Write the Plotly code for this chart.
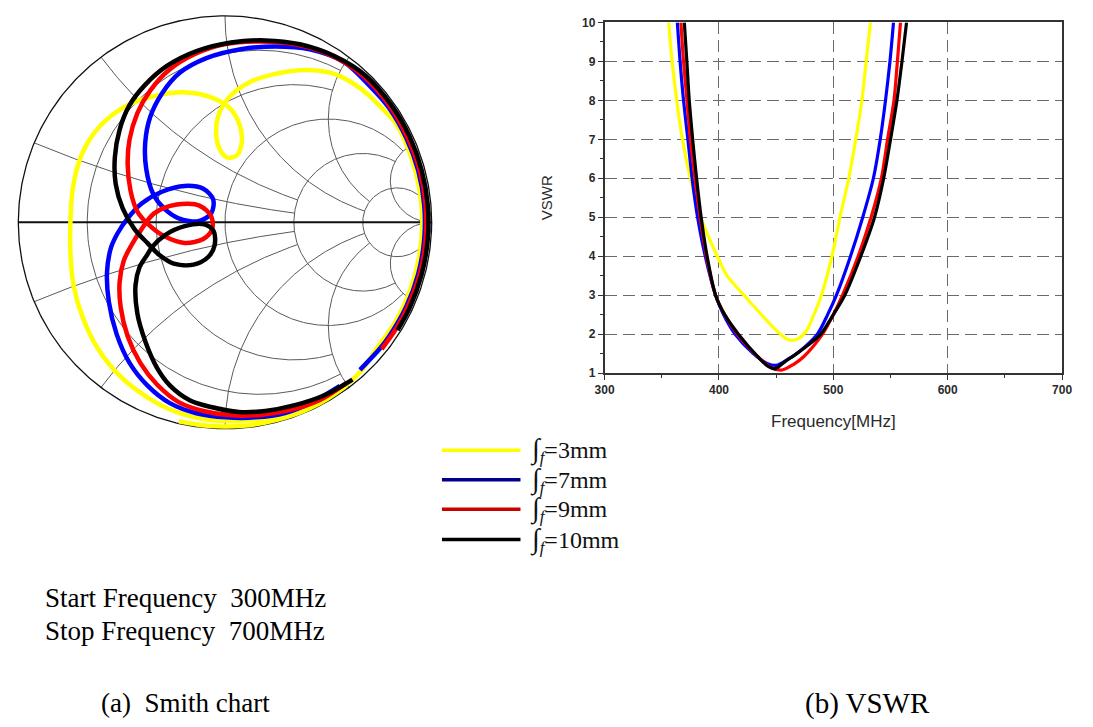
import numpy as np
import plotly.graph_objects as go

# ---------------- Smith chart data: reflection coefficient along the 300 -> 700 MHz sweep
smith_yellow_re = [0.529, 0.386, 0.219, 0.052, -0.090, -0.233, -0.376, -0.510, -0.614, -0.690,
                   -0.733, -0.748, -0.748, -0.738, -0.710, -0.662, -0.581, -0.471, -0.329, -0.186,
                   -0.067, 0.024, 0.071, 0.081, 0.057, 0.010, -0.029, -0.043, -0.024, 0.033,
                   0.124, 0.243, 0.386, 0.529, 0.660, 0.757, 0.827, 0.897, 0.940, 0.955,
                   0.940, 0.897, 0.827, 0.732, 0.665, 0.565, 0.419, 0.256, 0.086, -0.086, -0.223]
smith_yellow_im = [-0.824, -0.895, -0.945, -0.962, -0.955, -0.920, -0.848, -0.743, -0.614, -0.457,
                   -0.305, -0.148, 0.000, 0.152, 0.281, 0.390, 0.490, 0.567, 0.614, 0.629,
                   0.605, 0.552, 0.471, 0.386, 0.324, 0.314, 0.362, 0.448, 0.538, 0.619,
                   0.681, 0.719, 0.738, 0.719, 0.645, 0.555, 0.478, 0.327, 0.166, 0.000,
                   -0.166, -0.327, -0.478, -0.614, -0.713, -0.807, -0.897, -0.956, -0.986, -0.986, -0.964]

smith_blue_re = [0.556, 0.425, 0.290, 0.148, 0.005, -0.138, -0.267, -0.376, -0.462, -0.524,
                 -0.562, -0.571, -0.552, -0.519, -0.471, -0.405, -0.305, -0.195, -0.105, -0.057,
                 -0.067, -0.129, -0.224, -0.295, -0.348, -0.381, -0.386, -0.362, -0.305, -0.219,
                 -0.090, 0.076, 0.243, 0.410, 0.576, 0.704, 0.793, 0.877, 0.935, 0.964,
                 0.964, 0.935, 0.877, 0.793, 0.752, 0.653]
smith_blue_im = [-0.793, -0.870, -0.924, -0.945, -0.945, -0.925, -0.876, -0.790, -0.681, -0.543,
                 -0.386, -0.243, -0.124, -0.052, 0.019, 0.090, 0.148, 0.176, 0.162, 0.110,
                 0.043, 0.005, 0.019, 0.067, 0.138, 0.257, 0.386, 0.510, 0.624, 0.724,
                 0.795, 0.838, 0.852, 0.838, 0.776, 0.657, 0.555, 0.409, 0.251, 0.084,
                 -0.084, -0.251, -0.409, -0.555, -0.609, -0.715]

smith_red_re = [0.587, 0.457, 0.314, 0.171, 0.029, -0.105, -0.224, -0.329, -0.410, -0.471,
                -0.505, -0.510, -0.490, -0.452, -0.410, -0.343, -0.233, -0.124, -0.067, -0.062,
                -0.105, -0.195, -0.295, -0.367, -0.424, -0.457, -0.471, -0.462, -0.424, -0.362,
                -0.271, -0.148, -0.005, 0.162, 0.338, 0.510, 0.662, 0.799, 0.883, 0.942,
                0.971, 0.971, 0.942, 0.883, 0.827, 0.758]
smith_red_im = [-0.779, -0.862, -0.910, -0.933, -0.935, -0.914, -0.871, -0.786, -0.681, -0.552,
                -0.410, -0.290, -0.186, -0.110, -0.043, 0.043, 0.086, 0.081, 0.029, -0.033,
                -0.081, -0.100, -0.067, -0.014, 0.052, 0.152, 0.281, 0.400, 0.529, 0.638,
                0.738, 0.814, 0.862, 0.876, 0.862, 0.810, 0.714, 0.560, 0.412, 0.252,
                0.085, -0.085, -0.252, -0.412, -0.517, -0.614]

smith_black_re = [0.617, 0.481, 0.338, 0.195, 0.067, -0.067, -0.171, -0.267, -0.329, -0.386,
                  -0.424, -0.433, -0.414, -0.376, -0.352, -0.290, -0.195, -0.100, -0.055, -0.050,
                  -0.080, -0.152, -0.248, -0.319, -0.376, -0.438, -0.495, -0.529, -0.533, -0.510,
                  -0.462, -0.390, -0.281, -0.138, 0.029, 0.195, 0.362, 0.529, 0.681, 0.807,
                  0.893, 0.951, 0.981, 0.981, 0.951, 0.893, 0.835]
smith_black_im = [-0.762, -0.838, -0.886, -0.914, -0.919, -0.895, -0.862, -0.790, -0.705, -0.576,
                  -0.443, -0.305, -0.219, -0.157, -0.119, -0.062, -0.019, -0.010, -0.043, -0.110,
                  -0.167, -0.205, -0.200, -0.157, -0.100, -0.033, 0.067, 0.186, 0.314, 0.448,
                  0.567, 0.662, 0.757, 0.829, 0.871, 0.881, 0.862, 0.805, 0.710, 0.565,
                  0.416, 0.255, 0.086, -0.086, -0.255, -0.416, -0.522]

# ---------------- VSWR data
vswr_yellow_f = [356, 359, 363, 368, 375, 384, 398.5, 407, 418.7, 434, 449, 458, 463, 469,
                 476.8, 483, 489.6, 498.8, 505.8, 513.5, 519.6, 525, 528.7, 532.4]
vswr_yellow_v = [10, 9, 8, 7, 6, 5, 4, 3.5, 3.1, 2.6, 2.13, 1.9, 1.84, 1.88,
                 2.1, 2.5, 3, 4, 5, 6, 7, 8, 9, 10]
vswr_blue_f = [363.6, 366, 369, 372.8, 376.5, 381.3, 388, 397, 404, 414, 430, 442, 450, 460,
               470, 486, 495, 502.7, 515, 525.7, 535, 541, 545.6, 549.5, 552.6]
vswr_blue_v = [10, 9, 8, 7, 6, 5, 4, 3, 2.5, 2, 1.5, 1.25, 1.2, 1.35,
               1.55, 2, 2.5, 3, 4, 5, 6, 7, 8, 9, 10]
vswr_red_f = [366.7, 369, 372, 375, 379, 383.5, 389, 397, 405, 416, 433, 445, 455, 465,
              474, 490.5, 500, 508, 521.7, 533, 542, 547.4, 553, 556, 558.7]
vswr_red_v = [10, 9, 8, 7, 6, 5, 4, 3, 2.5, 2, 1.45, 1.15, 1.08, 1.22,
              1.42, 2, 2.5, 3, 4, 5, 6, 7, 8, 9, 10]
vswr_black_f = [369.7, 371.9, 374, 377, 380.4, 384.4, 389.6, 397, 405, 417, 434, 443, 449, 458,
                468, 478, 489, 500, 510, 524, 536, 544, 550, 555.6, 560, 564]
vswr_black_v = [10, 9, 8, 7, 6, 5, 4, 3, 2.5, 2, 1.42, 1.17, 1.11, 1.3,
                1.5, 1.72, 2, 2.5, 3, 4, 5, 6, 7, 8, 9, 10]

series_names = ["3mm", "7mm", "9mm", "10mm"]
curve_colors = ["#ffff00", "#0000ff", "#ff0000", "#000000"]
legend_colors = ["#ffff00", "#00008b", "#c80000", "#000000"]

# Smith chart grid values
r_small, r_mid, r_full = [0.2, 0.5], [1, 2], [5]
x_small, x_mid, x_full = [0.2, 0.5], [1, 2], [5]

# ---------------- Smith grid geometry
def gam(z):
    return (z - 1) / (z + 1)

gx, gy = [], []

def add(g):
    gx.extend(list(g.real) + [None])
    gy.extend(list(g.imag) + [None])

for r in r_small:
    add(gam(r + 1j * np.linspace(-2, 2, 300)))
for r in r_mid:
    add(gam(r + 1j * np.linspace(-5, 5, 400)))
for r in r_full:
    t = np.linspace(0, 2 * np.pi, 300)
    add((r / (1 + r) + np.cos(t) / (1 + r)) + 1j * (np.sin(t) / (1 + r)))
for xv in x_small:
    rs = np.linspace(0, 2, 300)
    for s in (1, -1):
        add(gam(rs + 1j * s * xv))
for xv in x_mid:
    rs = np.linspace(0, 5, 300)
    for s in (1, -1):
        add(gam(rs + 1j * s * xv))
for xv in x_full:
    rs = np.concatenate([np.linspace(0, 5, 200), np.geomspace(5, 1e5, 200)])
    for s in (1, -1):
        add(gam(rs + 1j * s * xv))

fig = go.Figure()
fig.add_trace(go.Scatter(x=gx, y=gy, mode="lines", line=dict(color="#5a5a5a", width=1),
                         hoverinfo="skip", showlegend=False, xaxis="x", yaxis="y"))
t = np.linspace(0, 2 * np.pi, 400)
fig.add_trace(go.Scatter(x=np.cos(t), y=np.sin(t), mode="lines", line=dict(color="#111111", width=1.3),
                         hoverinfo="skip", showlegend=False, xaxis="x", yaxis="y"))
fig.add_trace(go.Scatter(x=[-1, 1], y=[0, 0], mode="lines", line=dict(color="#111111", width=2),
                         hoverinfo="skip", showlegend=False, xaxis="x", yaxis="y"))

smith_sets = [(smith_yellow_re, smith_yellow_im), (smith_blue_re, smith_blue_im),
              (smith_red_re, smith_red_im), (smith_black_re, smith_black_im)]
for (re_, im_), c, n in zip(smith_sets, curve_colors, series_names):
    fig.add_trace(go.Scatter(x=re_, y=im_, mode="lines", name=n,
                             line=dict(color=c, width=4.5, shape="spline", smoothing=0.9),
                             showlegend=False, xaxis="x", yaxis="y"))

vswr_sets = [(vswr_yellow_f, vswr_yellow_v), (vswr_blue_f, vswr_blue_v),
             (vswr_red_f, vswr_red_v), (vswr_black_f, vswr_black_v)]
for (f_, v_), c, n in zip(vswr_sets, curve_colors, series_names):
    fig.add_trace(go.Scatter(x=f_, y=v_, mode="lines", name=n,
                             line=dict(color=c, width=3.2, shape="spline", smoothing=0.8),
                             showlegend=False, xaxis="x2", yaxis="y2"))

W, H = 1093, 727
cx, cy, R = 219.0, 219.5, 210.5
ext = 1.04
tickfont = dict(family="Liberation Sans", size=12, color="#2a2a2a", weight="bold")
fig.update_layout(
    width=W, height=H, autosize=False,
    margin=dict(l=0, r=0, t=0, b=0),
    paper_bgcolor="white", plot_bgcolor="rgba(0,0,0,0)",
    xaxis=dict(domain=[(cx - ext * R) / W, (cx + ext * R) / W], range=[-ext, ext],
               visible=False, fixedrange=True),
    yaxis=dict(domain=[1 - (cy + ext * R) / H, 1 - (cy - ext * R) / H], range=[-ext, ext],
               visible=False, fixedrange=True),
    xaxis2=dict(domain=[605.7 / W, 1071.7 / W], range=[300, 700], anchor="y2",
                tickvals=[300, 400, 500, 600, 700],
                showline=True, linecolor="#333333", linewidth=1.5, mirror=True,
                ticks="outside", ticklen=5, tickcolor="#333333",
                minor=dict(ticks="outside", ticklen=3, dtick=50, tickcolor="#333333", showgrid=False),
                showgrid=True, gridcolor="#6a6a6a", gridwidth=1, griddash="12px,6px",
                zeroline=False, tickfont=tickfont,
                title=dict(text="Frequency[MHz]", standoff=19,
                           font=dict(family="Liberation Sans", size=17, color="#2a2a2a"))),
    yaxis2=dict(domain=[1 - 373.3 / H, 1 - 15.7 / H], range=[1, 10], anchor="x2",
                tickvals=list(range(1, 11)),
                showline=True, linecolor="#333333", linewidth=1.5, mirror=True,
                ticks="outside", ticklen=5, tickcolor="#333333",
                minor=dict(ticks="outside", ticklen=3, dtick=0.5, tickcolor="#333333", showgrid=False),
                showgrid=True, gridcolor="#6a6a6a", gridwidth=1, griddash="12px,6px",
                zeroline=False, tickfont=tickfont,
                title=dict(text="VSWR", standoff=26,
                           font=dict(family="Liberation Sans", size=15, color="#2a2a2a"))),
)

# manual legend (long line keys)
leg_y = [452, 482, 512, 543]
shapes = []
annos = []
for yy, c, n in zip(leg_y, legend_colors, series_names):
    shapes.append(dict(type="line", xref="paper", yref="paper", x0=440 / W, x1=520 / W,
                       y0=1 - yy / H, y1=1 - yy / H, line=dict(color=c, width=3.5)))
    annos.append(dict(xref="paper", yref="paper", x=528 / W, y=1 - yy / H, xanchor="left",
                      yanchor="middle", showarrow=False,
                      text="<span style='font-size:28px'>∫</span><sub><i>f</i></sub>=" + n,
                      font=dict(family="Liberation Serif", size=24, color="#111111")))

serif = dict(family="Liberation Serif", size=27, color="#000000")
annos += [
    dict(xref="paper", yref="paper", x=34 / W, y=1 - 603 / H, xanchor="left", yanchor="middle",
         showarrow=False, text="Start Frequency&nbsp;&nbsp;300MHz", font=serif),
    dict(xref="paper", yref="paper", x=34 / W, y=1 - 636 / H, xanchor="left", yanchor="middle",
         showarrow=False, text="Stop Frequency&nbsp;&nbsp;700MHz", font=serif),
    dict(xref="paper", yref="paper", x=91 / W, y=1 - 710 / H, xanchor="left", yanchor="middle",
         showarrow=False, text="(a)&nbsp;&nbsp;Smith chart", font=serif),
    dict(xref="paper", yref="paper", x=808 / W, y=1 - 710 / H, xanchor="left", yanchor="middle",
         showarrow=False, text="(b) VSWR", font=dict(family="Liberation Serif", size=29, color="#000000")),
]
fig.update_layout(shapes=shapes, annotations=annos)

fig.write_html("out.html", config={"displayModeBar": False},
               post_script="document.body.style.margin='0';document.body.style.padding='0';")
